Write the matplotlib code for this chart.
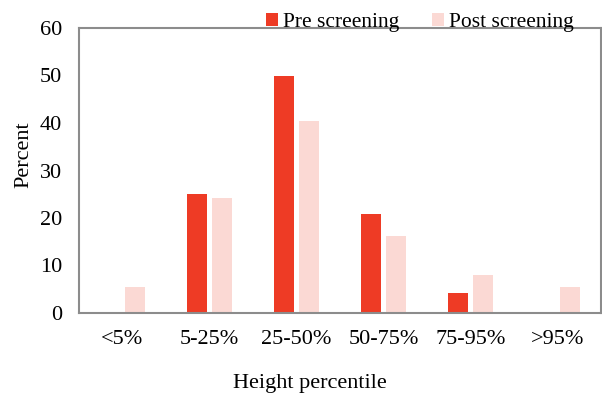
import matplotlib
matplotlib.use("Agg")
import matplotlib.pyplot as plt
import numpy as np

categories = ["<5%", "5-25%", "25-50%", "50-75%", "75-95%", ">95%"]
pre_screening = [0, 25.0, 50.0, 20.8, 4.2, 0]
post_screening = [5.4, 24.3, 40.5, 16.2, 8.1, 5.4]

plt.rcParams["font.family"] = ["Liberation Serif", "DejaVu Serif"]

fig = plt.figure(figsize=(6.02, 3.99), dpi=100)
ax = fig.add_axes([79 / 602, 1 - 313 / 399, 522 / 602, 285 / 399])

x = np.arange(len(categories))
w = 0.23
ax.bar(x - 0.14, pre_screening, width=w, color="#EE3B25", label="Pre screening")
ax.bar(x + 0.14, post_screening, width=w, color="#FBD9D4", label="Post screening")

ax.set_xlim(-0.5, len(categories) - 0.5)
ax.set_ylim(0, 60)
ax.set_yticks(np.arange(0, 61, 10))
ax.set_xticks(x)
ax.set_xticklabels(categories)
ax.tick_params(axis="both", length=0, labelsize=16)
ax.tick_params(axis="x", pad=12)
ax.tick_params(axis="y", pad=12)
for s in ["top", "right", "left", "bottom"]:
    ax.spines[s].set_color("#8c8c8c")
    ax.spines[s].set_linewidth(1.5)

ax.set_ylabel("Percent", fontsize=16)
ax.yaxis.set_label_coords(-0.087, 0.554)
ax.set_xlabel("Height percentile", fontsize=16)
ax.xaxis.set_label_coords(0.443, -0.215)

ax.legend(loc="lower right", bbox_to_anchor=(0.948, 0.985), ncol=2, frameon=False,
          fontsize=15.5, handlelength=0.55, handleheight=0.55, handletextpad=0.25,
          columnspacing=1.5, borderaxespad=0, borderpad=0)

fig.savefig("out.png", dpi=100)
